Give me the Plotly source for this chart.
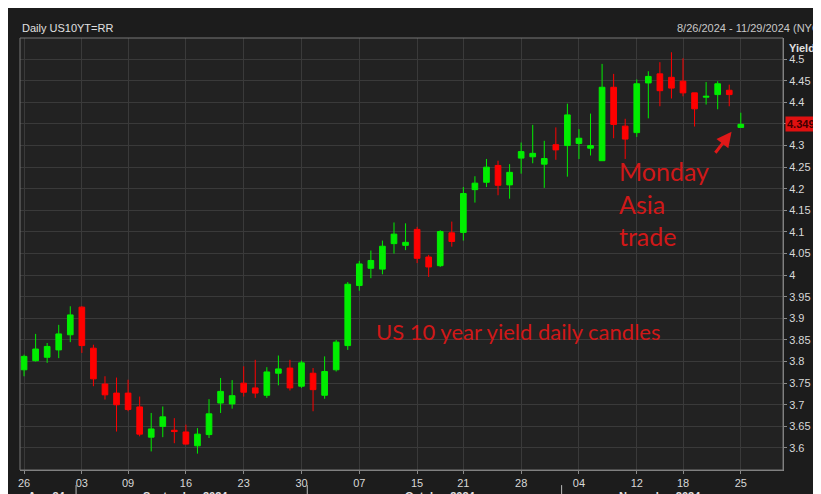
import plotly.graph_objects as go

dates = ["2024-08-26","2024-08-27","2024-08-28","2024-08-29","2024-08-30",
"2024-09-03","2024-09-04","2024-09-05","2024-09-06","2024-09-09","2024-09-10","2024-09-11","2024-09-12","2024-09-13",
"2024-09-16","2024-09-17","2024-09-18","2024-09-19","2024-09-20","2024-09-23","2024-09-24","2024-09-25","2024-09-26","2024-09-27",
"2024-09-30","2024-10-01","2024-10-02","2024-10-03","2024-10-04","2024-10-07","2024-10-08","2024-10-09","2024-10-10","2024-10-11",
"2024-10-15","2024-10-16","2024-10-17","2024-10-18","2024-10-21","2024-10-22","2024-10-23","2024-10-24","2024-10-25",
"2024-10-28","2024-10-29","2024-10-30","2024-10-31","2024-11-01","2024-11-04","2024-11-05","2024-11-06","2024-11-07","2024-11-08",
"2024-11-12","2024-11-13","2024-11-14","2024-11-15","2024-11-18","2024-11-19","2024-11-20","2024-11-21","2024-11-22","2024-11-25"]
opens = [3.781,3.802,3.810,3.827,3.862,3.926,3.831,3.748,3.727,3.727,3.695,3.625,3.650,3.641,
3.637,3.605,3.631,3.704,3.702,3.750,3.739,3.722,3.773,3.785,3.743,3.773,3.722,3.781,3.837,
3.976,4.016,4.014,4.073,4.069,4.106,4.042,4.022,4.098,4.099,4.198,4.215,4.254,4.209,
4.271,4.274,4.257,4.302,4.300,4.305,4.294,4.265,4.435,4.345,4.330,4.445,4.466,4.458,4.449,4.422,4.412,4.418,4.428,4.342]
closes = [3.812,3.829,3.835,3.864,3.908,3.837,3.760,3.723,3.700,3.689,3.632,3.644,3.672,3.638,
3.609,3.632,3.679,3.731,3.721,3.729,3.727,3.776,3.783,3.739,3.797,3.735,3.777,3.845,3.979,
4.026,4.034,4.067,4.095,4.076,4.039,4.019,4.101,4.078,4.189,4.213,4.250,4.208,4.238,
4.286,4.282,4.270,4.290,4.371,4.317,4.300,4.435,4.349,4.315,4.443,4.460,4.427,4.433,4.422,4.385,4.414,4.443,4.418,4.3492]
highs = [3.816,3.864,3.843,3.885,3.928,3.928,3.839,3.766,3.763,3.758,3.719,3.681,3.696,3.669,
3.654,3.646,3.713,3.762,3.757,3.789,3.804,3.787,3.814,3.804,3.802,3.785,3.812,3.850,3.984,
4.033,4.057,4.080,4.122,4.120,4.112,4.047,4.104,4.124,4.204,4.229,4.269,4.265,4.257,
4.307,4.348,4.311,4.342,4.397,4.338,4.374,4.489,4.466,4.362,4.453,4.472,4.493,4.516,4.502,4.422,4.447,4.449,4.441,4.376]
lows = [3.766,3.800,3.797,3.808,3.845,3.820,3.743,3.712,3.638,3.685,3.627,3.592,3.625,3.611,
3.608,3.587,3.623,3.681,3.691,3.719,3.716,3.716,3.745,3.733,3.739,3.685,3.714,3.777,3.827,
3.964,3.993,4.002,4.050,4.058,4.028,3.996,4.019,4.066,4.080,4.168,4.204,4.185,4.177,
4.235,4.259,4.202,4.267,4.228,4.269,4.277,4.265,4.317,4.269,4.320,4.363,4.391,4.409,4.414,4.344,4.395,4.384,4.391,4.342]
week_ticks = ["2024-08-26","2024-09-03","2024-09-09","2024-09-16","2024-09-23","2024-09-30","2024-10-07","2024-10-15",
"2024-10-21","2024-10-28","2024-11-04","2024-11-12","2024-11-18","2024-11-25"]
y_ticks = [3.6,3.65,3.7,3.75,3.8,3.85,3.9,3.95,4.0,4.05,4.1,4.15,4.2,4.25,4.3,4.35,4.4,4.45,4.5]
months = [("Aug 24","2024-08-28"),("September 2024","2024-09-16"),("October 2024","2024-10-17"),("November 2024","2024-11-14")]
month_starts = ["2024-09-03","2024-10-01","2024-11-01"]
last_label = "4.3492"

idx = {d: i for i, d in enumerate(dates)}
x = list(range(len(dates)))

fig = go.Figure(go.Candlestick(
    x=x, open=opens, high=highs, low=lows, close=closes,
    increasing=dict(line=dict(color="#00ee00", width=1), fillcolor="#00ee00"),
    decreasing=dict(line=dict(color="#ff0000", width=1), fillcolor="#ff0000"),
    whiskerwidth=0, showlegend=False, hoverinfo="none"))

tv = [idx[d] for d in week_ticks]
fig.update_layout(
    width=821, height=494, paper_bgcolor="#1c1c1c", plot_bgcolor="#222222",
    margin=dict(l=12, r=46, t=30, b=32, autoexpand=False),
    font=dict(family="Liberation Sans, Arial", color="#d8d8d8", size=11),
    xaxis=dict(range=[-0.35, len(dates)+2.65], tickvals=tv, ticktext=[d[-2:] for d in week_ticks],
               showgrid=True, gridcolor="#3a3a3a", rangeslider=dict(visible=False), zeroline=False,
               showline=True, linecolor="#8a8a8a", ticks="outside", ticklen=3, tickcolor="#8a8a8a",
               automargin=False),
    yaxis=dict(side="right", range=[3.549, 4.549], tickvals=y_ticks, automargin=False,
               ticktext=[("%g" % v) for v in y_ticks], showgrid=True, gridcolor="#3a3a3a", zeroline=False,
               showline=True, linecolor="#8a8a8a", ticks="outside", ticklen=3, tickcolor="#8a8a8a"),
    shapes=[dict(type="rect", xref="paper", yref="paper", x0=0, x1=1, y0=0, y1=1,
                 line=dict(color="#777", width=1))] +
           [dict(type="line", xref="x", yref="paper", x0=idx[d]-0.5, x1=idx[d]-0.5, y0=-0.085, y1=-0.035,
                 line=dict(color="#bbb", width=1)) for d in month_starts],
    annotations=[
        dict(text="Daily US10YT=RR", xref="paper", yref="paper", x=0, y=1.005, xanchor="left", yanchor="bottom",
             showarrow=False, font=dict(size=11, color="#e0e0e0")),
        dict(text="8/26/2024 - 11/29/2024 (NYC)", xref="paper", yref="paper", x=1.057, y=1.005, xanchor="right",
             yanchor="bottom", showarrow=False, font=dict(size=11, color="#c8c8c8")),
        dict(text="<b>Yield</b>", xref="paper", yref="paper", x=1.005, y=0.995, xanchor="left", yanchor="top",
             showarrow=False, font=dict(size=11, color="#e0e0e0")),
        dict(text="<b>"+last_label+"</b>", xref="paper", y=closes[-1], yref="y", x=1.003, xanchor="left",
             showarrow=False, bgcolor="#e01010", font=dict(size=11, color="#400000"), borderpad=1),
        dict(text="US 10 year yield daily candles", x=idx["2024-10-28"]-0.3, y=3.87, xref="x", yref="y",
             showarrow=False, font=dict(size=22, color="#d01818", family="Lato, Open Sans")),
        dict(text="Monday<br>Asia<br>trade", x=idx["2024-11-07"]+0.3, y=4.165, xref="x", yref="y",
             xanchor="left", align="left", showarrow=False,
             font=dict(size=25, color="#d01818", family="Lato, Open Sans")),
        dict(x=idx["2024-11-25"]-0.8, y=4.332, ax=idx["2024-11-21"]-0.3, ay=4.28, xref="x", yref="y",
             axref="x", ayref="y", text="", showarrow=True, arrowhead=2, arrowsize=1, arrowwidth=3,
             arrowcolor="#e01818"),
    ] + [dict(text="<b>"+m+"</b>", x=idx[d], y=-0.06, xref="x", yref="paper", yanchor="middle",
              showarrow=False, font=dict(size=11, color="#e0e0e0")) for m, d in months],
)
fig.write_html("out.html")
